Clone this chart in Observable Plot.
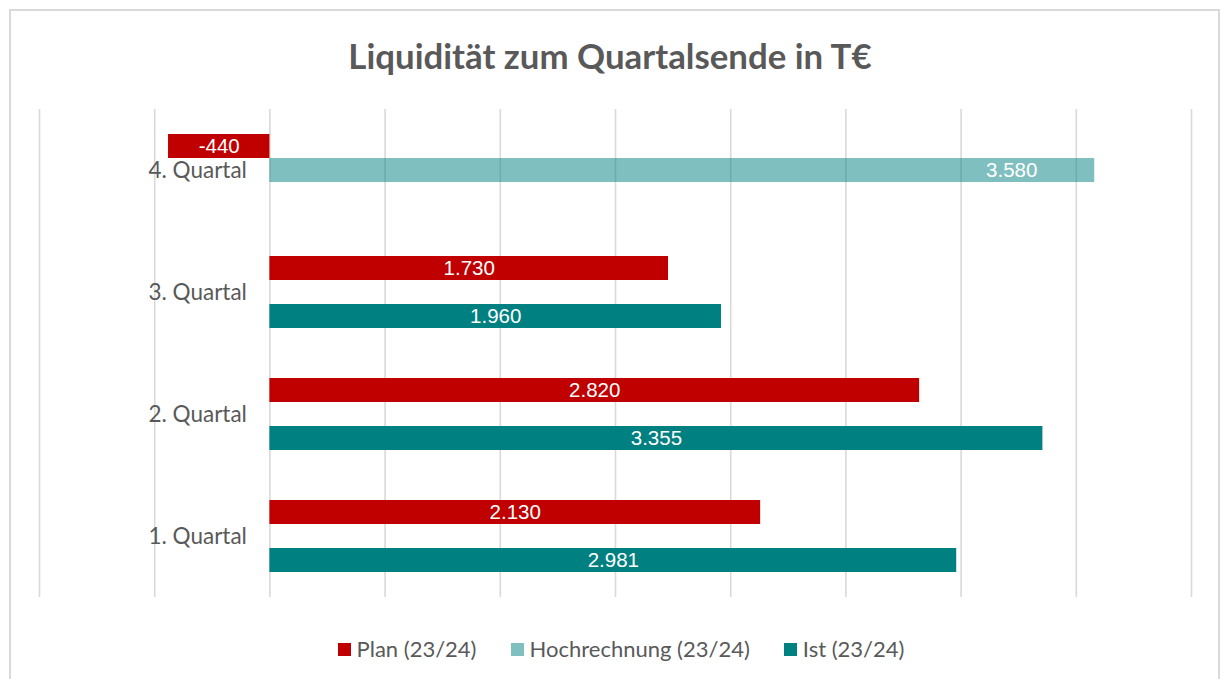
<!DOCTYPE html>
<html>
<head>
<meta charset="utf-8">
<script src="https://cdn.jsdelivr.net/npm/d3@7"></script>
<script src="https://cdn.jsdelivr.net/npm/@observablehq/plot@0.6"></script>
<style>
  body { margin: 0; background: #fff; }
  #wrap { position: relative; width: 1220px; height: 679px; overflow: hidden; font-family: Lato, "Noto Sans", sans-serif; color: #595959; }
  #frame { position: absolute; left: 9px; top: 9px; width: 1207px; height: 700px; border: 2px solid #d9d9d9; pointer-events: none; }
  #title { height: 80px; position: relative; }
  #title span { position: absolute; left: 0; right: 0; top: 38px; text-align: center; font-weight: bold; font-size: 34.8px; line-height: 35px; color: #595959; }
  #chart svg { display: block; }
  #legend { position: absolute; left: 0; right: 0; top: 636px; display: flex; justify-content: center; align-items: center; font-size: 22px; line-height: 26px; padding-left: 22px; }
  .item { display: flex; align-items: center; margin: 0 17px; }
  .sw { width: 13px; height: 13px; margin-right: 6px; box-sizing: border-box; }
</style>
</head>
<body>
<div id="wrap">
  <div id="title"><span>Liquidität zum Quartalsende in T€</span></div>
  <div id="chart"></div>
  <div id="legend"></div>
  <div id="frame"></div>
</div>
<script>
const quarters = ["4. Quartal", "3. Quartal", "2. Quartal", "1. Quartal"];
const seriesNames = ["Plan (23/24)", "Hochrechnung (23/24)", "Ist (23/24)"];
const planValues = [-440, 1730, 2820, 2130];
const hochrechnungValues = [3580, null, null, null];
const istValues = [null, 1960, 3355, 2981];
const gridTicks = [-1000, -500, 0, 500, 1000, 1500, 2000, 2500, 3000, 3500, 4000];
const seriesColors = ["#C00000", "#008080", "#008080"];
const seriesOpacity = [1, 0.5, 1];

const rows = [];
const allValues = [planValues, hochrechnungValues, istValues];
quarters.forEach((q, i) => {
  allValues.forEach((arr, j) => {
    if (arr[i] != null) rows.push({quarter: q, series: seriesNames[j], value: arr[i], j});
  });
});

const fmt = d3.formatLocale({decimal: ",", thousands: ".", grouping: [3], currency: ["", "€"], minus: "-"}).format(",");

const centered = rows.filter(d => d.j !== 1);
const shifted = rows.filter(d => d.j === 1);

const chart = Plot.plot({
  width: 1220,
  height: 530,
  marginTop: 28,
  marginBottom: 13,
  marginLeft: 39,
  marginRight: 29,
  style: {background: "transparent", overflow: "visible"},
  x: {domain: [-1000, 4000], axis: null},
  y: {domain: seriesNames, axis: null, paddingInner: 0, paddingOuter: 0.944},
  fy: {domain: quarters, axis: null, padding: 0},
  color: {domain: seriesNames, range: seriesColors},
  marks: [
    Plot.ruleX(gridTicks, {x: d => d, stroke: "#d9d9d9", strokeWidth: 1.6}),
    Plot.barX(rows, {fy: "quarter", y: "series", x: "value", fill: "series", fillOpacity: d => seriesOpacity[d.j], insetTop: 0, insetBottom: 0}),
    Plot.text(centered, {fy: "quarter", y: "series", x: d => d.value / 2, text: d => fmt(d.value), fill: "white", fontSize: 20.5, fontFamily: "'Liberation Sans', Arial, sans-serif"}),
    Plot.text(shifted, {fy: "quarter", y: "series", x: "value", dx: -83, text: d => fmt(d.value), fill: "white", fontSize: 20.5, fontFamily: "'Liberation Sans', Arial, sans-serif"}),
    Plot.text(quarters, {fy: d => d, x: 0, text: d => d, textAnchor: "end", dx: -23, fontSize: 22.5, fill: "#595959", fontFamily: "Lato, sans-serif"})
  ]
});
document.getElementById("chart").appendChild(chart);

const legend = document.getElementById("legend");
seriesNames.forEach((name, j) => {
  const item = document.createElement("div");
  item.className = "item";
  const sw = document.createElement("div");
  sw.className = "sw";
  sw.style.background = seriesColors[j];
  sw.style.opacity = seriesOpacity[j];
  const label = document.createElement("span");
  label.textContent = name;
  item.appendChild(sw);
  item.appendChild(label);
  legend.appendChild(item);
});
</script>
</body>
</html>
